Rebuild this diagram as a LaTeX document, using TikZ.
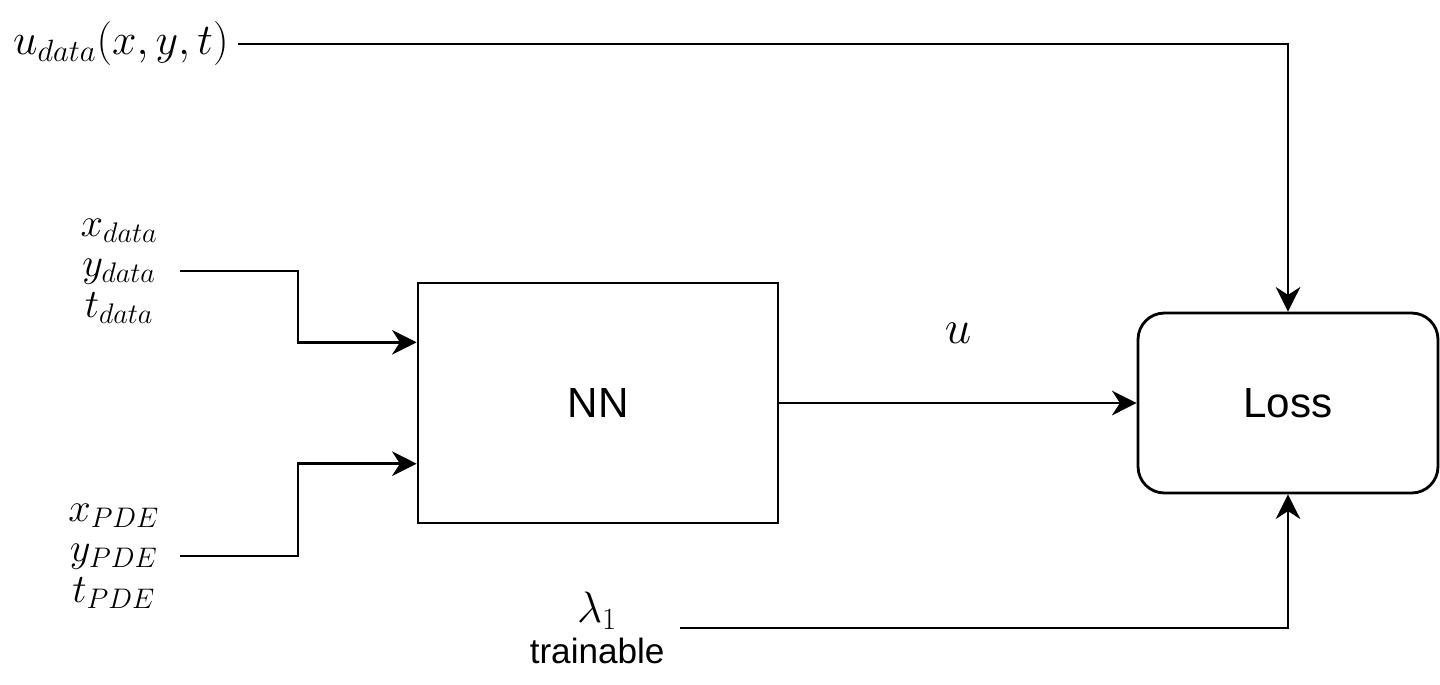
\RequirePackage{fix-cm}
\documentclass[tikz,border=0pt]{standalone}
\usepackage{amsmath}
\usepackage{fontspec}
\setsansfont{Liberation Sans}
\usepackage{tikz}
\usetikzlibrary{
  arrows.meta,%
  calc,%
  positioning
}
\tikzset{>={Stealth[length=14pt,width=14pt,inset=4.5pt]}}
\tikzset{block/.style={draw, minimum width=7.2cm, minimum height=4.8cm,
    font=\sffamily\fontsize{24}{29}\selectfont}}
\tikzset{lossbox/.style={block, rounded corners=15pt,
    minimum width=6cm, minimum height=3.6cm}}
\tikzset{inlabel/.style={align=center, inner ysep=0pt,
    font=\fontsize{23}{23}\selectfont}}

\begin{document}
\begin{tikzpicture}[x=0.02cm, y=-0.02cm, line width=1.6pt]
  \useasboundingbox (0,0) rectangle (1440,684);
  % blocks
  \node[block] (nn) at (598,403) {NN};
  \node[lossbox] (loss) at (1288,403) {Loss};
  % inputs
  \node[inlabel, anchor=east, inner xsep=4.5pt, font=\fontsize{25}{28}\selectfont]
    (udata) at (238,44) {$u_{data}(x,y,t)$};
  \node[inlabel, anchor=east, inner xsep=12pt] (xdata) at (180,271)
    {$x_{data}$\\$y_{data}$\\$t_{data}$};
  \node[inlabel, anchor=east, inner xsep=11pt] (xpde) at (180,556)
    {$x_{PDE}$\\$y_{PDE}$\\$t_{PDE}$};
  \node[inlabel, anchor=east, inner xsep=8pt, font=\fontsize{25}{23}\selectfont]
    (lam) at (680,628) {$\lambda_1$\\{\sffamily\fontsize{20}{23}\selectfont trainable}};
  \node[font=\fontsize{27}{29}\selectfont] (u) at (958,333) {$u$};
  % connectors
  \draw[->] (udata.east) -| (loss.north);
  \draw[->] (xdata.east) -- ++(118,0) |- ($(nn.north west)!0.25!(nn.south west)$);
  \draw[->] (xpde.east) -- ++(118,0) |- ($(nn.north west)!0.75!(nn.south west)$);
  \draw[->] (nn.east) -- (loss.west);
  \draw[->] (lam.east) -| (loss.south);
\end{tikzpicture}
\end{document}
